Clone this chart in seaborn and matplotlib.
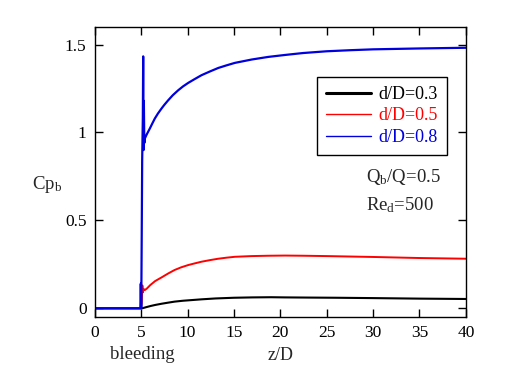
import numpy as np
import pandas as pd
import matplotlib
matplotlib.use("Agg")
import matplotlib.pyplot as plt
from matplotlib.lines import Line2D
import seaborn as sns

# valori
z_03 = [0, 4.95, 5.1, 5.5, 6, 6.5, 7.2, 8, 8.6, 9.5, 10.5, 11.5, 13, 15, 17, 19, 20.5, 23, 26, 30, 35, 40]
cp_03 = [0.0, 0.0, 0.0, 0.006, 0.013, 0.019, 0.026, 0.033, 0.038, 0.043, 0.047, 0.051, 0.056, 0.060, 0.062, 0.063, 0.062, 0.061, 0.060, 0.058, 0.055, 0.053]

z_05 = [0, 4.95, 5.05, 5.12, 5.17, 5.25, 5.39, 5.6, 5.97, 6.5, 7.2, 7.9, 8.6, 9.3, 10.06, 10.8, 11.5, 12.4, 13.3, 14.2, 15.1, 16.9, 18.7, 20.5, 22.5, 25, 30, 35, 40]
cp_05 = [0.0, 0.0, 0.03, 0.13, 0.09, 0.11, 0.104, 0.112, 0.132, 0.155, 0.176, 0.198, 0.218, 0.233, 0.246, 0.256, 0.265, 0.274, 0.282, 0.288, 0.293, 0.297, 0.299, 0.300, 0.299, 0.297, 0.292, 0.286, 0.282]

z_08 = [0, 4.9, 4.95, 5.0, 5.05, 5.1, 5.17, 5.21, 5.25, 5.28, 5.33, 5.39, 5.6, 5.93, 6.2, 6.47, 6.8, 7.18, 7.5, 7.9, 8.4, 8.98, 9.5, 10.06, 10.8, 11.5, 12.4, 13.3, 14.2, 15.1, 16.9, 18.7, 20.5, 22.45, 25, 27.5, 30, 35, 40]
cp_08 = [0.0, 0.0, 0.14, 0.0, 0.40, 0.84, 1.08, 1.433, 0.90, 1.18, 0.94, 0.966, 0.99, 1.023, 1.052, 1.08, 1.108, 1.136, 1.158, 1.183, 1.212, 1.24, 1.262, 1.282, 1.305, 1.326, 1.347, 1.367, 1.382, 1.396, 1.415, 1.43, 1.441, 1.452, 1.462, 1.468, 1.473, 1.478, 1.482]

labels = ["d/D=0.3", "d/D=0.5", "d/D=0.8"]
colori = ["black", "red", "#0000dd"]
spessori = [1.5, 1.4, 1.6]

df = pd.concat([
    pd.DataFrame({"z": z_03, "cp": cp_03, "serie": labels[0]}),
    pd.DataFrame({"z": z_05, "cp": cp_05, "serie": labels[1]}),
    pd.DataFrame({"z": z_08, "cp": cp_08, "serie": labels[2]}),
])

sns.set_style("ticks")
plt.rcParams["font.family"] = ["Liberation Serif", "DejaVu Serif"]
plt.rcParams["mathtext.fontset"] = "custom"
plt.rcParams["mathtext.rm"] = "Liberation Serif"
plt.rcParams["mathtext.it"] = "Liberation Serif"

fig = plt.figure(figsize=(5.3, 3.7), dpi=100)
ax = fig.add_axes([0.179, 0.143, 0.700, 0.784])

for lab, col, lw in zip(labels, colori, spessori):
    sns.lineplot(data=df[df["serie"] == lab], x="z", y="cp", color=col, lw=lw,
                 estimator=None, sort=False, ax=ax, legend=False)

ax.set_xlim(0, 40)
ax.set_ylim(-0.05, 1.6)
ax.set_xticks(range(0, 41, 5))
ax.set_yticks([0, 0.5, 1, 1.5])
ax.set_yticklabels(["0", "0.5", "1", "1.5"])
ax.tick_params(direction="in", top=True, right=True, length=6, width=1, labelsize=12.5,
               colors="black", pad=6)
for s in ax.spines.values():
    s.set_color("black")
    s.set_linewidth(1)

ax.set_xlabel("z/D", fontsize=13, labelpad=4)
ax.set_ylabel("Cp$_\\mathrm{b}$", fontsize=13.5, rotation=0)
ax.yaxis.set_label_coords(-0.13, 0.42)
ax.text(5.1, -0.26, "bleeding", fontsize=13.5, ha="center", va="center")

ax.text(29.2, 0.745, "Q$_\\mathrm{b}$/Q=0.5", fontsize=13.5, ha="left", va="center")
ax.text(29.2, 0.585, "Re$_\\mathrm{d}$=500", fontsize=13.5, ha="left", va="center")

handles = [Line2D([], [], color=c, lw=w) for c, w in zip(colori, [2.2, 1.0, 1.0])]
leg = ax.legend(handles, labels, loc="upper left", bbox_to_anchor=(0.598, 0.828),
                borderaxespad=0, fontsize=13, frameon=True, fancybox=False,
                edgecolor="black", framealpha=1, handlelength=2.5, labelspacing=0.25,
                borderpad=0.5, handletextpad=0.4)
leg.get_frame().set_linewidth(1)
for t, c in zip(leg.get_texts(), colori):
    t.set_color(c)

fig.savefig("out.png", dpi=100)
